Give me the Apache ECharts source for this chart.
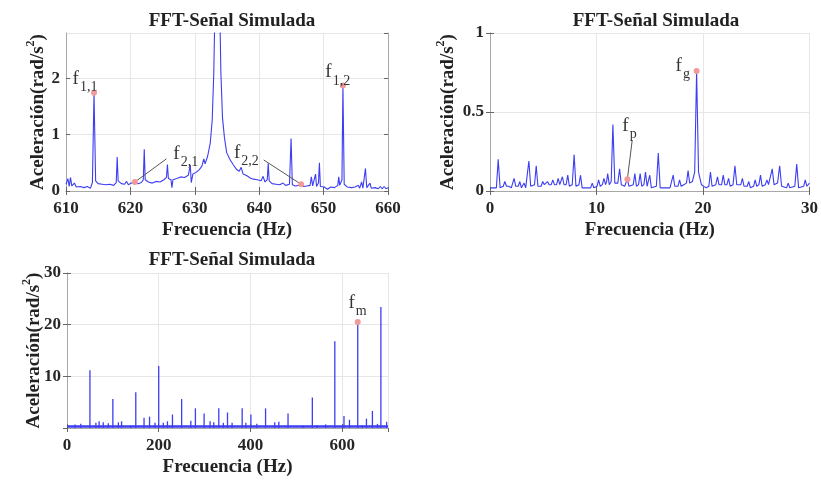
<!DOCTYPE html>
<html>
<head>
<meta charset="utf-8">
<title>FFT-Señal Simulada</title>
<script src="https://cdn.jsdelivr.net/npm/echarts@6/dist/echarts.min.js"></script>
<style>
  html, body { margin: 0; padding: 0; background: #fff; }
  #chart { width: 821px; height: 481px; }
</style>
</head>
<body>
<div id="chart"></div>
<script>
// espectro alrededor de la frecuencia de engrane (610-660 Hz)
const bandFreq = [610.0, 610.3, 610.5, 610.7, 610.9, 611.3, 611.6, 612.2, 612.8, 613.3, 613.8, 614.1, 614.35, 614.6,
  615.0, 615.6, 616.2, 616.8, 617.4, 617.8, 617.95, 618.1, 618.6, 619.1, 619.4, 619.7, 620.1, 620.7, 621.2, 621.7,
  622.0, 622.15, 622.3, 622.8, 623.4, 624.0, 624.6, 625.2, 625.6, 625.75, 625.9, 626.3, 626.45, 626.6, 627.2, 627.8,
  628.4, 629.0, 629.3, 629.45, 629.7, 630.2, 630.7, 631.1, 631.4, 631.6, 632.0, 632.4, 632.7, 632.95, 633.15, 633.5,
  633.85, 634.05, 634.3, 634.6, 634.95, 635.5, 636.0, 636.5, 636.9, 637.2, 637.5, 638.1, 638.6, 639.1, 639.7, 640.3,
  640.6, 640.9, 641.25, 641.4, 641.55, 642.0, 642.6, 643.2, 643.7, 644.1, 644.7, 644.95, 645.15, 645.6, 646.1, 646.5,
  646.9, 647.4, 647.9, 648.1, 648.3, 648.6, 648.75, 648.9, 649.2, 649.35, 649.5, 650.1, 650.6, 651.1, 651.7, 652.2,
  652.35, 652.5, 652.85, 653.0, 653.2, 653.7, 654.3, 654.9, 655.4, 655.6, 655.9, 656.1, 656.5, 656.7, 657.2, 657.4,
  658.0, 658.5, 658.8, 659.1, 659.4, 659.7, 660.0];
const bandAmp = [0.12, 0.22, 0.08, 0.24, 0.09, 0.14, 0.07, 0.08, 0.06, 0.08, 0.05, 0.15, 1.74, 0.18,
  0.13, 0.12, 0.11, 0.12, 0.10, 0.15, 0.60, 0.18, 0.13, 0.12, 0.17, 0.11, 0.14, 0.16, 0.13, 0.15,
  0.20, 0.74, 0.20, 0.16, 0.14, 0.17, 0.16, 0.20, 0.24, 0.47, 0.22, 0.20, 0.06, 0.20, 0.22, 0.25,
  0.24, 0.28, 0.46, 0.15, 0.30, 0.33, 0.38, 0.44, 0.57, 0.48, 0.62, 0.85, 1.25, 2.1, 3.4, 6.0,
  3.4, 2.1, 1.3, 0.95, 0.68, 0.55, 0.46, 0.38, 0.35, 0.42, 0.30, 0.27, 0.23, 0.21, 0.20, 0.18,
  0.26, 0.16, 0.20, 0.49, 0.18, 0.13, 0.12, 0.11, 0.14, 0.10, 0.12, 0.93, 0.11, 0.09, 0.10, 0.12,
  0.08, 0.09, 0.10, 0.25, 0.09, 0.11, 0.30, 0.08, 0.14, 0.50, 0.08, 0.07, 0.03, 0.07, 0.06, 0.10,
  0.25, 0.10, 0.20, 1.87, 0.12, 0.07, 0.06, 0.07, 0.10, 0.05, 0.16, 0.05, 0.40, 0.06, 0.14, 0.05,
  0.06, 0.04, 0.08, 0.04, 0.08, 0.04, 0.06];

// espectro de baja frecuencia (0-30 Hz), pares [Hz, amplitud]
const lowSpectrum = [
  [0, 0.02], [0.6, 0.02], [0.77, 0.20], [0.95, 0.02], [1.25, 0.03], [1.39, 0.06], [1.55, 0.03], [1.75, 0.03],
  [1.86, 0.04], [2.0, 0.02], [2.12, 0.03], [2.26, 0.08], [2.42, 0.03], [2.65, 0.03], [2.8, 0.06], [2.95, 0.02],
  [3.1, 0.03], [3.2, 0.05], [3.35, 0.02], [3.5, 0.03], [3.65, 0.19], [3.82, 0.03], [4.0, 0.03], [4.18, 0.04],
  [4.34, 0.16], [4.5, 0.03], [4.8, 0.03], [4.95, 0.06], [5.1, 0.04], [5.25, 0.04], [5.4, 0.06], [5.55, 0.04],
  [5.75, 0.04], [5.9, 0.07], [6.05, 0.04], [6.25, 0.04], [6.4, 0.08], [6.55, 0.04], [6.65, 0.05], [6.8, 0.09],
  [6.95, 0.04], [7.15, 0.04], [7.3, 0.10], [7.45, 0.03], [7.72, 0.04], [7.9, 0.23], [8.07, 0.03], [8.35, 0.04],
  [8.5, 0.10], [8.65, 0.02], [8.9, 0.02], [9.0, 0.03], [9.15, 0.02], [9.45, 0.02], [9.6, 0.05], [9.75, 0.02],
  [10.05, 0.03], [10.2, 0.07], [10.35, 0.03], [10.55, 0.04], [10.7, 0.08], [10.85, 0.04], [10.95, 0.06],
  [11.05, 0.11], [11.2, 0.04], [11.38, 0.06], [11.54, 0.42], [11.72, 0.05], [12.0, 0.05], [12.17, 0.14],
  [12.33, 0.04], [12.5, 0.05], [12.65, 0.03], [12.9, 0.075], [13.05, 0.03], [13.45, 0.04], [13.6, 0.11],
  [13.75, 0.03], [13.95, 0.04], [14.1, 0.11], [14.25, 0.03], [14.45, 0.04], [14.6, 0.12], [14.75, 0.03],
  [14.9, 0.04], [15.0, 0.10], [15.15, 0.02], [15.62, 0.03], [15.8, 0.24], [15.98, 0.02], [16.4, 0.02],
  [16.9, 0.02], [17.05, 0.03], [17.2, 0.10], [17.35, 0.03], [17.65, 0.03], [17.8, 0.07], [17.95, 0.03],
  [18.2, 0.04], [18.45, 0.05], [18.6, 0.13], [18.75, 0.05], [19.0, 0.06], [19.22, 0.12], [19.4, 0.76],
  [19.58, 0.12], [19.85, 0.04], [20.3, 0.02], [20.55, 0.03], [20.7, 0.12], [20.85, 0.03], [21.2, 0.04],
  [21.36, 0.09], [21.5, 0.04], [21.75, 0.04], [21.9, 0.10], [22.05, 0.04], [22.25, 0.04], [22.4, 0.08],
  [22.55, 0.03], [22.82, 0.04], [23.0, 0.16], [23.17, 0.04], [23.55, 0.04], [23.7, 0.08], [23.85, 0.03],
  [24.15, 0.03], [24.3, 0.06], [24.45, 0.02], [24.75, 0.03], [24.9, 0.07], [25.05, 0.03], [25.25, 0.04],
  [25.4, 0.10], [25.55, 0.03], [25.85, 0.04], [26.0, 0.07], [26.15, 0.04], [26.32, 0.05], [26.5, 0.14],
  [26.67, 0.04], [27.0, 0.05], [27.2, 0.16], [27.38, 0.03], [27.85, 0.02], [28.0, 0.05], [28.15, 0.02],
  [28.62, 0.03], [28.8, 0.17], [28.98, 0.02], [29.45, 0.03], [29.6, 0.07], [29.75, 0.03], [30, 0.05]
];

// espectro completo (0-700 Hz): picos discretos sobre un piso de ruido
const fullFreq = [17.5, 30, 50, 63, 70, 79, 90, 100, 112, 119, 139, 150, 168, 180, 192, 200, 210, 219, 230, 250,
  270, 280, 299, 312, 320, 331, 341, 350, 360, 382, 390, 401, 414, 433, 453, 462, 482, 514, 535, 545, 564, 584,
  604, 616, 634, 644, 653, 666, 677, 684.5, 697];
const fullAmp = [0.7, 0.8, 11.2, 1.0, 1.3, 1.1, 0.9, 5.6, 1.1, 1.3, 0.5, 6.9, 2.0, 2.2, 1.0, 12.0, 1.0, 1.3, 2.6, 5.6,
  1.4, 3.8, 2.8, 1.3, 1.1, 3.8, 1.0, 3.0, 1.0, 3.8, 1.0, 2.6, 0.8, 3.8, 1.1, 1.2, 2.8, 0.5, 5.9, 0.6, 0.7, 16.8,
  2.3, 1.6, 20.5, 0.6, 1.8, 3.3, 0.8, 23.4, 1.2];
const fullFloor = [[0, 0.3], [700, 0.3]];

// frecuencias marcadas
const bandMarks = [[614.35, 1.74], [653.0, 1.87], [620.7, 0.16], [646.5, 0.12]];
const lowMarks = [[12.9, 0.075], [19.4, 0.76]];
const fullMarks = [[634, 20.5]];

const SERIF = "'Liberation Serif', 'DejaVu Serif', serif";
const BLUE = '#3d3df2';
const MARK = '#f29a9a';

const chart = echarts.init(document.getElementById('chart'));

const labelRich = {
  f: { fontFamily: SERIF, fontSize: 19, color: '#333' },
  s: { fontFamily: SERIF, fontSize: 14, color: '#333', padding: [17, 0, 0, 1] }
};
const nameRich = {
  sup: { fontFamily: SERIF, fontSize: 12, fontWeight: 'bold', color: '#222', padding: [0, 0, 14, 0] }
};

function tag(coord, text) {
  return {
    coord: coord,
    symbol: 'circle',
    symbolSize: 0,
    label: { show: true, position: 'inside', formatter: text, rich: labelRich }
  };
}
function dot(coord) {
  return {
    coord: coord,
    symbol: 'circle',
    symbolSize: 6,
    itemStyle: { color: MARK },
    label: { show: false }
  };
}
function leader(from, to) {
  return [{ coord: from }, { coord: to }];
}

function axesFor(gi, x, y) {
  const tickStyle = { inside: true, length: 4, lineStyle: { color: '#666' } };
  const lineStyle = { show: true, lineStyle: { color: '#a8a8a8' } };
  const labelStyle = { fontFamily: SERIF, fontSize: 17, fontWeight: 'bold', color: '#262626' };
  const xs = [
    {
      gridIndex: gi, type: 'value', min: x.min, max: x.max, interval: x.interval,
      axisLine: lineStyle, axisTick: tickStyle,
      splitLine: { show: true, lineStyle: { color: '#e6e6e6' } },
      axisLabel: Object.assign({ margin: 9, showMaxLabel: x.showMax !== false }, labelStyle),
      name: 'Frecuencia (Hz)', nameLocation: 'middle', nameGap: x.nameGap,
      nameTextStyle: { fontFamily: SERIF, fontSize: 19, fontWeight: 'bold', color: '#222' }
    },
    {
      gridIndex: gi, type: 'value', position: 'top', min: x.min, max: x.max, interval: x.interval,
      axisLine: lineStyle, axisTick: tickStyle, axisLabel: { show: false }, splitLine: { show: false }
    }
  ];
  const ys = [
    {
      gridIndex: gi, type: 'value', min: y.min, max: y.max, interval: y.interval,
      axisLine: lineStyle, axisTick: tickStyle,
      splitLine: { show: true, lineStyle: { color: '#e6e6e6' } },
      axisLabel: Object.assign({ margin: 6, showMaxLabel: y.showMax !== false, showMinLabel: y.showMin !== false }, labelStyle),
      name: 'Aceleración(rad/s{sup|2})', nameLocation: 'middle', nameGap: y.nameGap, nameMoveOverlap: false,
      nameTextStyle: { fontFamily: SERIF, fontSize: 19, fontWeight: 'bold', color: '#222', rich: nameRich }
    },
    {
      gridIndex: gi, type: 'value', position: 'right', min: y.min, max: y.max, interval: y.interval,
      axisLine: lineStyle, axisTick: tickStyle, axisLabel: { show: false }, splitLine: { show: false }
    }
  ];
  return { xs, ys };
}

const a0 = axesFor(0, { min: 610, max: 660, interval: 10, nameGap: 30 }, { min: 0, max: 2.8, interval: 1, showMax: false, nameGap: 15 });
const a1 = axesFor(1, { min: 0, max: 30, interval: 10, nameGap: 30 }, { min: 0, max: 1, interval: 0.5, nameGap: 29 });
const a2 = axesFor(2, { min: 0, max: 700, interval: 200, showMax: false, nameGap: 30 }, { min: 0, max: 30, interval: 10, showMin: false, nameGap: 20 });

const titleStyle = { fontFamily: SERIF, fontSize: 19, fontWeight: 'bold', color: '#222' };

chart.setOption({
  animation: false,
  title: [
    { text: 'FFT-Señal Simulada', left: 227, top: 7, textAlign: 'center', textStyle: titleStyle },
    { text: 'FFT-Señal Simulada', left: 651, top: 7, textAlign: 'center', textStyle: titleStyle },
    { text: 'FFT-Señal Simulada', left: 227, top: 246, textAlign: 'center', textStyle: titleStyle }
  ],
  grid: [
    { left: 66, top: 33, width: 322, height: 158 },
    { left: 490, top: 33, width: 323, height: 158 },
    { left: 67, top: 273, width: 321, height: 155 }
  ],
  xAxis: [...a0.xs, ...a1.xs, ...a2.xs],
  yAxis: [...a0.ys, ...a1.ys, ...a2.ys],
  series: [
    {
      type: 'line', xAxisIndex: 0, yAxisIndex: 0,
      data: bandFreq.map((f, i) => [f, bandAmp[i]]),
      showSymbol: false, lineStyle: { color: BLUE, width: 1.1 }, itemStyle: { color: BLUE },
      clip: true,
      markPoint: {
        silent: true,
        data: [
          ...bandMarks.map(dot),
          tag([612.95, 1.98], '{f|f}{s|1,1}'),
          tag([652.2, 2.1], '{f|f}{s|1,2}'),
          tag([628.6, 0.66], '{f|f}{s|2,1}'),
          tag([638.0, 0.68], '{f|f}{s|2,2}')
        ]
      },
      markLine: {
        silent: true, symbol: ['none', 'none'], label: { show: false },
        lineStyle: { color: '#555', width: 1, type: 'solid' },
        data: [leader([620.7, 0.16], [625.6, 0.57]), leader([646.5, 0.12], [640.7, 0.55])]
      }
    },
    {
      type: 'line', xAxisIndex: 2, yAxisIndex: 2,
      data: lowSpectrum,
      showSymbol: false, lineStyle: { color: BLUE, width: 1.1 }, itemStyle: { color: BLUE },
      markPoint: {
        silent: true,
        data: [
          ...lowMarks.map(dot),
          tag([13.1, 0.41], '{f|f}{s|p}'),
          tag([18.1, 0.79], '{f|f}{s|g}')
        ]
      },
      markLine: {
        silent: true, symbol: ['none', 'none'], label: { show: false },
        lineStyle: { color: '#555', width: 1, type: 'solid' },
        data: [leader([12.9, 0.075], [13.35, 0.32])]
      }
    },
    {
      type: 'line', xAxisIndex: 4, yAxisIndex: 4,
      data: fullFloor,
      showSymbol: false, lineStyle: { color: BLUE, width: 2.5 }
    },
    {
      type: 'bar', xAxisIndex: 4, yAxisIndex: 4,
      data: fullFreq.map((f, i) => [f, fullAmp[i]]),
      barWidth: 1.3, itemStyle: { color: BLUE },
      markPoint: {
        silent: true,
        data: [
          ...fullMarks.map(dot),
          tag([633.6, 24.2], '{f|f}{s|m}')
        ]
      }
    }
  ]
});
</script>
</body>
</html>
